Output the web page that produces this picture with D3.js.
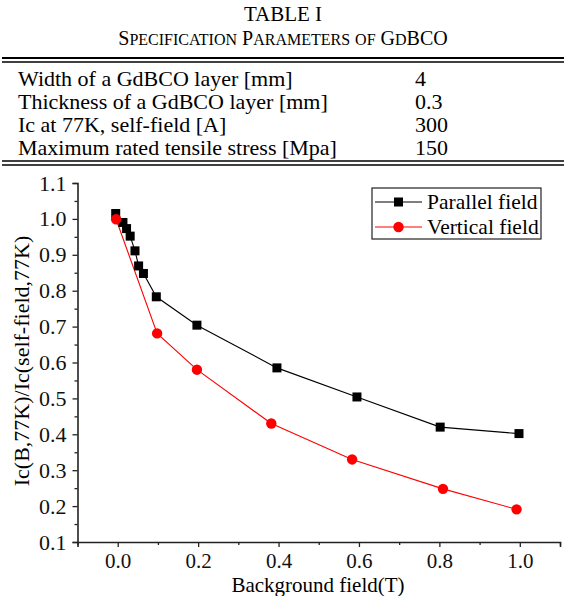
<!DOCTYPE html>
<html>
<head>
<meta charset="utf-8">
<script src="https://cdn.jsdelivr.net/npm/d3@7"></script>
<style>
  body { margin: 0; background: #fff; }
  svg { display: block; font-family: 'Liberation Serif', serif; }
</style>
</head>
<body>
<script>
'use strict';

// table contents
var tableTitle = 'TABLE I';
var tableCaption = 'Specification Parameters of GdBCO';
var paramNames = [
  'Width of a GdBCO layer [mm]',
  'Thickness of a GdBCO layer [mm]',
  'Ic at 77K, self-field [A]',
  'Maximum rated tensile stress [Mpa]'
];
var paramValues = ['4', '0.3', '300', '150'];

var parallelX = [-0.005, 0.013, 0.022, 0.031, 0.043, 0.052, 0.064, 0.096, 0.197, 0.396, 0.595, 0.802, 0.998];
var parallelY = [1.015, 0.990, 0.973, 0.952, 0.911, 0.869, 0.848, 0.783, 0.704, 0.585, 0.504, 0.420, 0.402];
var verticalX = [-0.004, 0.098, 0.197, 0.382, 0.583, 0.809, 0.992];
var verticalY = [0.999, 0.681, 0.580, 0.430, 0.330, 0.248, 0.191];

var seriesNames = ['Parallel field', 'Vertical field'];
var xTicks = [0.0, 0.2, 0.4, 0.6, 0.8, 1.0];
var xMinorTicks = [-0.1, 0.1, 0.3, 0.5, 0.7, 0.9, 1.1];
var yTicks = [0.1, 0.2, 0.3, 0.4, 0.5, 0.6, 0.7, 0.8, 0.9, 1.0, 1.1];
var xTitle = 'Background field(T)';
var yTitle = 'Ic(B,77K)/Ic(self-field,77K)';

var width = 564;
var height = 596;
var serif = "'Liberation Serif', serif";

var svg = d3.select('body').append('svg')
  .attr('width', width)
  .attr('height', height);

// ---- table ----
svg.append('text')
  .attr('x', 283).attr('y', 21)
  .attr('text-anchor', 'middle')
  .style('font-size', '21px')
  .text(tableTitle);

// hand made small caps: capitals at full size, the rest smaller
var caption = svg.append('text')
  .attr('x', 283).attr('y', 45)
  .attr('text-anchor', 'middle');
tableCaption.split('').forEach(function(ch) {
  var isCap = ch !== ' ' && ch === ch.toUpperCase();
  caption.append('tspan')
    .style('font-size', isCap || ch === ' ' ? '20px' : '16px')
    .text(ch === ' ' ? '\u00a0' : ch.toUpperCase());
});

function doubleRule(y, w1, w2) {
  svg.append('line')
    .attr('x1', 2).attr('x2', width).attr('y1', y).attr('y2', y)
    .attr('stroke', '#000').attr('stroke-width', w1);
  svg.append('line')
    .attr('x1', 2).attr('x2', width).attr('y1', y + 4).attr('y2', y + 4)
    .attr('stroke', '#000').attr('stroke-width', w2);
}
doubleRule(58, 2, 1.3);
doubleRule(161, 1.6, 1.6);

var rowY = d3.scaleBand()
  .domain(d3.range(paramNames.length))
  .range([66.5, 158.5]);

var rows = svg.selectAll('g.row')
  .data(paramNames)
  .enter().append('g')
  .attr('class', 'row')
  .attr('transform', function(d, i) {
    return 'translate(0,' + (rowY(i) + rowY.bandwidth() / 2 + 7.5) + ')';
  });

rows.append('text')
  .attr('x', 18)
  .style('font-size', '22px')
  .text(function(d) { return d; });

rows.append('text')
  .attr('x', 415)
  .style('font-size', '22px')
  .text(function(d, i) { return paramValues[i]; });

// ---- chart ----
var x = d3.scaleLinear().domain([-0.1, 1.1]).range([77.5, 560]);
var y = d3.scaleLinear().domain([0.1, 1.1]).range([542, 183]);

var axisColor = '#222';

// x axis
svg.append('g')
  .attr('class', 'x-axis')
  .attr('transform', 'translate(0,' + y(0.1) + ')')
  .call(d3.axisBottom(x).tickValues(xTicks).tickSize(5).tickPadding(6)
    .tickFormat(d3.format('.1f')));
svg.append('g')
  .attr('transform', 'translate(0,' + y(0.1) + ')')
  .call(d3.axisBottom(x).tickValues(xMinorTicks).tickSize(3).tickFormat(''))
  .select('.domain').remove();

// y axis
svg.append('g')
  .attr('transform', 'translate(' + x(-0.1) + ',0)')
  .call(d3.axisLeft(y).tickValues(yTicks).tickSize(5).tickPadding(6)
    .tickFormat(d3.format('.1f')));
svg.append('g')
  .attr('transform', 'translate(' + x(-0.1) + ',0)')
  .call(d3.axisLeft(y).tickValues(d3.range(0.15, 1.1, 0.1)).tickSize(3).tickFormat(''))
  .select('.domain').remove();

svg.selectAll('.domain')
  .attr('stroke', axisColor)
  .attr('stroke-width', 1.6);
svg.selectAll('.tick line')
  .attr('stroke', axisColor)
  .attr('stroke-width', 1.3);
svg.selectAll('g').attr('font-family', null).attr('font-size', null);
svg.selectAll('.tick text')
  .style('font-family', serif)
  .style('font-size', '22px')
  .attr('fill', '#111');
svg.selectAll('.x-axis .tick text')
  .style('font-size', '21px');

// axis titles
svg.append('text')
  .attr('x', 318).attr('y', 592)
  .attr('text-anchor', 'middle')
  .style('font-size', '21px')
  .text(xTitle);

svg.append('text')
  .attr('transform', 'translate(29,361)rotate(-90)')
  .attr('text-anchor', 'middle')
  .style('font-size', '22px')
  .text(yTitle);

// series
var line = d3.line()
  .x(function(d) { return x(d[0]); })
  .y(function(d) { return y(d[1]); });

var parallel = d3.zip(parallelX, parallelY);
var vertical = d3.zip(verticalX, verticalY);

svg.append('path')
  .datum(parallel)
  .attr('d', line)
  .attr('fill', 'none')
  .attr('stroke', '#000')
  .attr('stroke-width', 1.1);

svg.append('path')
  .datum(vertical)
  .attr('d', line)
  .attr('fill', 'none')
  .attr('stroke', '#ff0000')
  .attr('stroke-width', 1.1);

var sq = 9;
svg.selectAll('rect.parallel')
  .data(parallel)
  .enter().append('rect')
  .attr('class', 'parallel')
  .attr('x', function(d) { return x(d[0]) - sq / 2; })
  .attr('y', function(d) { return y(d[1]) - sq / 2; })
  .attr('width', sq)
  .attr('height', sq)
  .attr('fill', '#000');

svg.selectAll('circle.vertical')
  .data(vertical)
  .enter().append('circle')
  .attr('class', 'vertical')
  .attr('cx', function(d) { return x(d[0]); })
  .attr('cy', function(d) { return y(d[1]); })
  .attr('r', 5.2)
  .attr('fill', '#ff0000');

// legend
var legend = svg.append('g').attr('transform', 'translate(372,188)');
legend.append('rect')
  .attr('width', 169).attr('height', 51)
  .attr('fill', '#fff')
  .attr('stroke', '#222')
  .attr('stroke-width', 1.2);

var legendColors = ['#000', '#ff0000'];
var legendRow = legend.selectAll('g.item')
  .data(seriesNames)
  .enter().append('g')
  .attr('class', 'item')
  .attr('transform', function(d, i) { return 'translate(0,' + (14 + i * 25) + ')'; });

legendRow.append('line')
  .attr('x1', 3).attr('x2', 50)
  .attr('stroke', function(d, i) { return legendColors[i]; })
  .attr('stroke-width', 1.1);

legendRow.each(function(d, i) {
  var g = d3.select(this);
  if (i === 0) {
    g.append('rect').attr('x', 26.5 - sq / 2).attr('y', -sq / 2)
      .attr('width', sq).attr('height', sq).attr('fill', '#000');
  } else {
    g.append('circle').attr('cx', 26.5).attr('r', 5.2).attr('fill', '#ff0000');
  }
});

legendRow.append('text')
  .attr('x', 55)
  .attr('y', 7)
  .style('font-size', '21.5px')
  .text(function(d) { return d; });
</script>
</body>
</html>
